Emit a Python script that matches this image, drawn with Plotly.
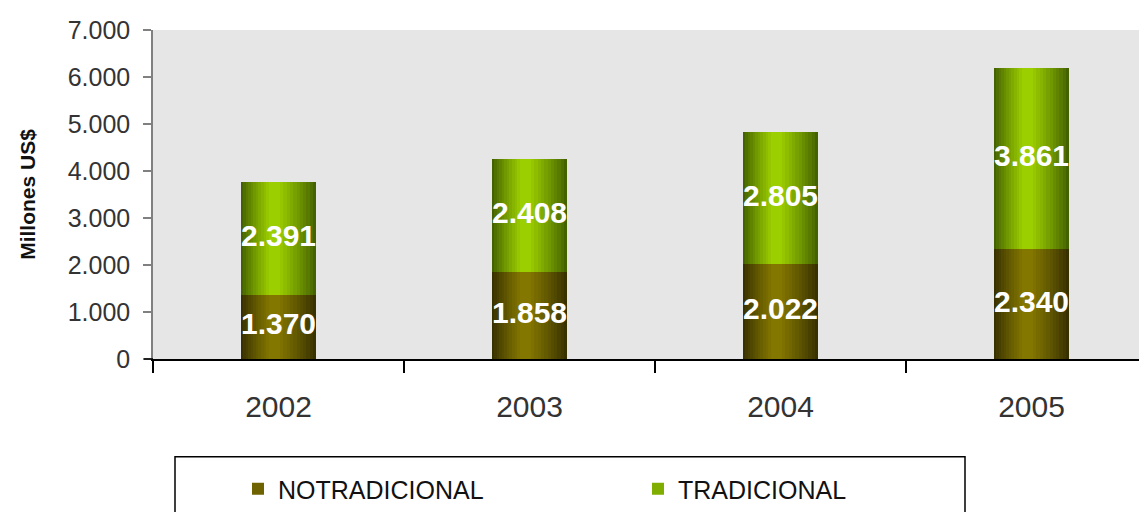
import plotly.graph_objects as go

years = ["2002", "2003", "2004", "2005"]
no_tradicional = [1370, 1858, 2022, 2340]
tradicional = [2391, 2408, 2805, 3861]
y_ticks = [0, 1000, 2000, 3000, 4000, 5000, 6000, 7000]

FONT = "Liberation Sans, Arial, sans-serif"
xpos = list(range(len(years)))
W = 0.30
N = 12


def lerp(c1, c2, t):
    return "rgb(%d,%d,%d)" % tuple(round(a + (b - a) * t) for a, b in zip(c1, c2))


def fmt(v):
    return f"{v:,}".replace(",", ".")


fig = go.Figure()


def add_series(name, values, base, edge, center, legend_color):
    for i in range(N):
        t = i / (N - 1)
        w = W * (1 - i / (N + 1))
        shift = -0.06 * W * i / N
        fig.add_trace(go.Bar(
            x=xpos, y=values, base=base, width=w, offset=shift - w / 2,
            marker=dict(color=lerp(edge, center, t ** 0.9), line=dict(width=0)),
            showlegend=False, hoverinfo="skip", legendgroup=name,
        ))
    # legend entry
    fig.add_trace(go.Bar(
        x=[None], y=[None], name=name, legendgroup=name,
        marker=dict(color=legend_color, line=dict(width=0)),
        hoverinfo="skip",
    ))


add_series("NOTRADICIONAL", no_tradicional, [0] * 4,
           (0x38, 0x31, 0x00), (0x84, 0x77, 0x00), "#6e6300")
add_series("TRADICIONAL", tradicional, no_tradicional,
           (0x45, 0x62, 0x00), (0x9c, 0xcf, 0x00), "#7fae00")

# data labels
fig.add_trace(go.Scatter(
    x=xpos, y=[v / 2 for v in no_tradicional], mode="text",
    text=[fmt(v) for v in no_tradicional],
    textfont=dict(family=FONT, size=30, color="white", weight="bold"),
    showlegend=False, hoverinfo="skip", cliponaxis=False,
))
fig.add_trace(go.Scatter(
    x=xpos, y=[b + v / 2 for b, v in zip(no_tradicional, tradicional)], mode="text",
    text=[fmt(v) for v in tradicional],
    textfont=dict(family=FONT, size=30, color="white", weight="bold"),
    showlegend=False, hoverinfo="skip", cliponaxis=False,
))

L, R, T, B = 153, 0, 30, 152
PW = 1139 - L - R
PH = 512 - T - B


def px_x(p):
    return (p - L) / PW


def px_y(p):
    return (512 - B - p) / PH


fig.add_shape(type="rect", xref="paper", yref="paper",
              x0=px_x(175), x1=px_x(965), y0=px_y(458), y1=px_y(530),
              line=dict(color="black", width=1.5), fillcolor="white", layer="below")
# short extension of the category axis line left of the value axis
fig.add_shape(type="line", xref="paper", yref="paper",
              x0=px_x(144), x1=0, y0=0, y1=0,
              line=dict(color="black", width=1.5))

fig.update_layout(
    width=1139, height=512,
    margin=dict(l=L, r=R, t=T, b=B),
    paper_bgcolor="white",
    plot_bgcolor="#e6e6e6",
    barmode="overlay",
    bargap=0,
    separators=",.",
    font=dict(family=FONT, color="#333333"),
    showlegend=True,
    legend=dict(
        orientation="h", x=px_x(238), xanchor="left", y=px_y(490), yanchor="middle",
        font=dict(family=FONT, size=25, color="#111111"),
        bgcolor="rgba(0,0,0,0)", borderwidth=0,
        entrywidth=355, entrywidthmode="pixels", itemwidth=30,
        traceorder="normal",
    ),
    xaxis=dict(
        range=[-0.5, -0.5 + PW / 251.0],
        tickvals=xpos, ticktext=years,
        ticks="outside", ticklen=20, tickcolor="rgba(0,0,0,0)",
        tickfont=dict(family=FONT, size=30, color="#333333"),
        showline=True, linecolor="black", linewidth=1.5,
        showgrid=False, zeroline=False, fixedrange=True,
        minor=dict(tickvals=[-0.5, 0.5, 1.5, 2.5], ticks="outside", ticklen=12,
                   tickcolor="black", tickwidth=1.5, showgrid=False),
    ),
    yaxis=dict(
        range=[0, 7000], tickvals=y_ticks, tickformat=",d",
        ticks="outside", ticklen=8, tickcolor="#808080", tickwidth=1.5,
        ticklabelstandoff=8,
        tickfont=dict(family=FONT, size=25, color="#333333"),
        showline=True, linecolor="#808080", linewidth=1.5,
        showgrid=False, zeroline=False, fixedrange=True,
        title=dict(text="Millones US$", standoff=26,
                   font=dict(family=FONT, size=21, color="#111111", weight="bold")),
    ),
)

fig.write_html("out.html")
